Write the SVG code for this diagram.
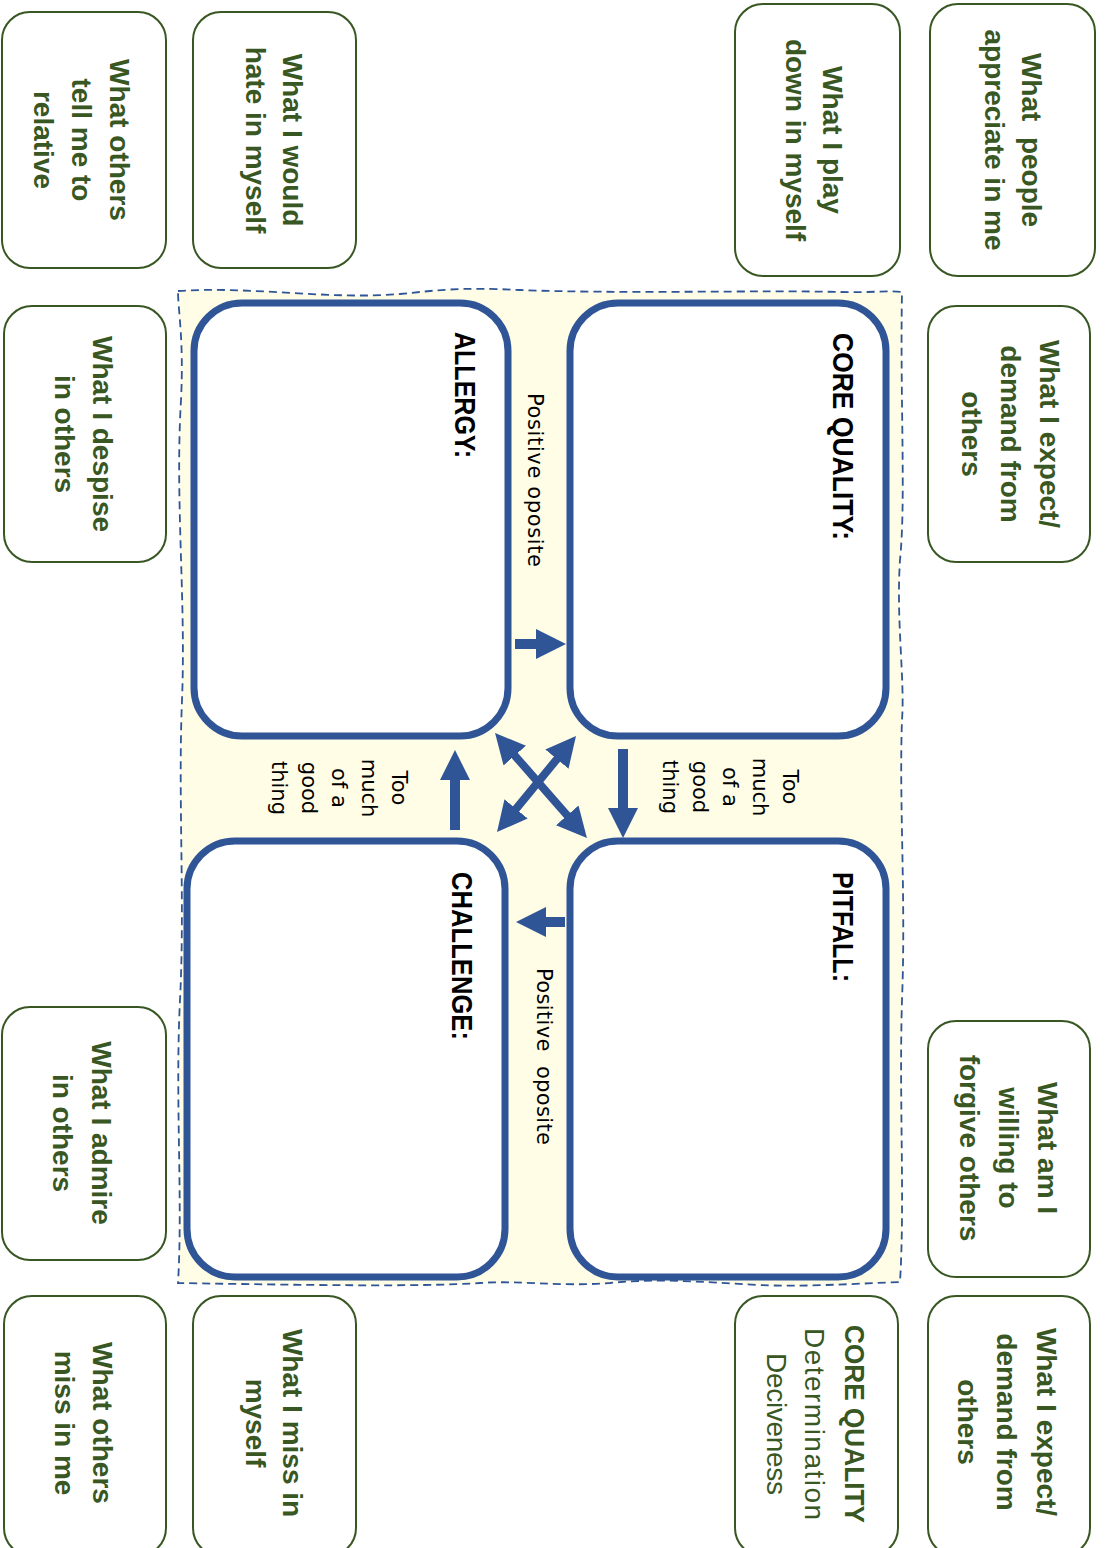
<svg xmlns="http://www.w3.org/2000/svg" width="1105" height="1548" viewBox="0 0 1105 1548">
<style>
.gbox{fill:#ffffff;stroke:#385723;stroke-width:2}
.bbox{fill:#ffffff;stroke:#2f5597;stroke-width:7}
.gt{font-family:"Liberation Sans",Arial,sans-serif;font-weight:bold;font-size:28px;fill:#385723;text-anchor:middle}
.gn{font-weight:normal}
.bt{font-family:"Liberation Sans",Arial,sans-serif;font-weight:bold;font-size:29px;fill:#000000}
.lt{font-family:"DejaVu Sans",Verdana,sans-serif;font-size:21px;fill:#000000}
.mid{text-anchor:middle}
.arr{stroke:#2f5597;stroke-width:10;fill:none;marker-end:url(#head)}
.darr{stroke:#2f5597;stroke-width:8;fill:none;marker-end:url(#head);marker-start:url(#head)}
</style>
<defs>
<marker id="head" markerUnits="userSpaceOnUse" markerWidth="30" markerHeight="30" viewBox="0 0 30 30" refX="2" refY="15" orient="auto-start-reverse">
<path d="M0,0 L30,15 L0,30 Z" fill="#2f5597"/>
</marker>
</defs>

<g id="background">
<path d="M178,291 C250,286 330,300 400,294 C440,290 460,287 520,290 C620,294 760,290 840,292 C870,293 890,290 902,292 C900,400 906,500 900,560 C896,620 905,680 902,720 C899,800 906,900 902,1000 C899,1100 905,1200 900,1282 C850,1284 800,1287 760,1285 C700,1282 660,1278 610,1283 C560,1287 520,1280 480,1283 C420,1287 300,1285 178,1283 C183,1200 175,1100 180,1000 C185,900 178,800 182,700 C186,600 175,500 181,400 C184,340 178,310 178,291 Z" fill="#fffde6" stroke="#2f5597" stroke-width="1.8" stroke-dasharray="8,5"/>
</g>

<g id="allergy">
<rect class="bbox" x="194" y="303" width="314" height="433" rx="48"/>
<text class="bt" transform="translate(455,332) rotate(90)" textLength="126" lengthAdjust="spacingAndGlyphs">ALLERGY:</text>
</g>
<g id="core-quality">
<rect class="bbox" x="570" y="303" width="316" height="433" rx="48"/>
<text class="bt" transform="translate(833,333) rotate(90)" textLength="207" lengthAdjust="spacingAndGlyphs">CORE QUALITY:</text>
</g>
<g id="challenge">
<rect class="bbox" x="187" y="841" width="318" height="436" rx="48"/>
<text class="bt" transform="translate(452,872) rotate(90)" textLength="168" lengthAdjust="spacingAndGlyphs">CHALLENGE:</text>
</g>
<g id="pitfall">
<rect class="bbox" x="570" y="841" width="316" height="436" rx="48"/>
<text class="bt" transform="translate(833,872) rotate(90)" textLength="110" lengthAdjust="spacingAndGlyphs">PITFALL:</text>
</g>

<g id="connectors">
<line class="arr" x1="515" y1="644" x2="538" y2="644"/>
<line class="arr" x1="623" y1="749" x2="623" y2="810"/>
<line class="arr" x1="455" y1="830" x2="455" y2="778"/>
<line class="arr" x1="565" y1="922" x2="544" y2="922"/>
<line class="darr" x1="513.5" y1="754.1" x2="568.5" y2="816.9"/>
<line class="darr" x1="558.2" y1="757.6" x2="514.8" y2="810.4"/>
<text class="lt" transform="translate(528,393) rotate(90)" textLength="174">Positive oposite</text>
<text class="lt" transform="translate(537,968) rotate(90)" textLength="177">Positive&#160; oposite</text>
<text class="lt mid" transform="translate(783,787) rotate(90)"><tspan x="0" y="0">Too</tspan><tspan x="0" y="30">much</tspan><tspan x="0" y="60">of a</tspan><tspan x="0" y="90">good</tspan><tspan x="0" y="120">thing</tspan></text>
<text class="lt mid" transform="translate(392,788) rotate(90)"><tspan x="0" y="0">Too</tspan><tspan x="0" y="30">much</tspan><tspan x="0" y="60">of a</tspan><tspan x="0" y="90">good</tspan><tspan x="0" y="120">thing</tspan></text>
</g>

<g id="others-tell-me">
<rect class="gbox" x="2" y="12" width="164" height="256" rx="28"/>
<text class="gt" transform="translate(110,140) rotate(90)"><tspan x="0" y="0">What others</tspan><tspan x="0" y="38">tell me to</tspan><tspan x="0" y="76">relative</tspan></text>
</g>
<g id="hate-in-myself">
<rect class="gbox" x="193" y="12" width="163" height="256" rx="28"/>
<text class="gt" transform="translate(283,140) rotate(90)"><tspan x="0" y="0">What I would</tspan><tspan x="0" y="37">hate in myself</tspan></text>
</g>
<g id="play-down">
<rect class="gbox" x="735" y="4" width="165" height="272" rx="28"/>
<text class="gt" transform="translate(823,140) rotate(90)"><tspan x="0" y="0">What I play</tspan><tspan x="0" y="37">down in myself</tspan></text>
</g>
<g id="appreciate">
<rect class="gbox" x="930" y="4" width="165" height="272" rx="28"/>
<text class="gt" transform="translate(1022,140) rotate(90)"><tspan x="0" y="0">What&#160; people</tspan><tspan x="0" y="37">appreciate in me</tspan></text>
</g>
<g id="despise">
<rect class="gbox" x="4" y="306" width="162" height="256" rx="28"/>
<text class="gt" transform="translate(93,434) rotate(90)"><tspan x="0" y="0">What I despise</tspan><tspan x="0" y="38">in others</tspan></text>
</g>
<g id="expect-top">
<rect class="gbox" x="928" y="306" width="162" height="256" rx="28"/>
<text class="gt" transform="translate(1040,434) rotate(90)"><tspan x="0" y="0">What I expect/</tspan><tspan x="0" y="39">demand from</tspan><tspan x="0" y="78">others</tspan></text>
</g>
<g id="admire">
<rect class="gbox" x="2" y="1007" width="164" height="253" rx="28"/>
<text class="gt" transform="translate(92,1133) rotate(90)"><tspan x="0" y="0">What I admire</tspan><tspan x="0" y="39">in others</tspan></text>
</g>
<g id="forgive">
<rect class="gbox" x="928" y="1021" width="162" height="256" rx="28"/>
<text class="gt" transform="translate(1038,1148) rotate(90)"><tspan x="0" y="0">What am I</tspan><tspan x="0" y="39">willing to</tspan><tspan x="0" y="78">forgive others</tspan></text>
</g>
<g id="others-miss">
<rect class="gbox" x="4" y="1296" width="162" height="260" rx="28"/>
<text class="gt" transform="translate(93,1423) rotate(90)"><tspan x="0" y="0">What others</tspan><tspan x="0" y="38">miss in me</tspan></text>
</g>
<g id="miss-in-myself">
<rect class="gbox" x="193" y="1296" width="163" height="260" rx="28"/>
<text class="gt" transform="translate(283,1423) rotate(90)"><tspan x="0" y="0">What I miss in</tspan><tspan x="0" y="37">myself</tspan></text>
</g>
<g id="core-quality-card">
<rect class="gbox" x="735" y="1296" width="163" height="260" rx="28"/>
<text class="gt" transform="translate(845,1424) rotate(90)"><tspan x="0" y="0" textLength="198" lengthAdjust="spacingAndGlyphs">CORE QUALITY</tspan><tspan class="gn" x="0" y="40" textLength="192">Determination</tspan><tspan class="gn" x="0" y="78" textLength="142">Deciveness</tspan></text>
</g>
<g id="expect-bottom">
<rect class="gbox" x="928" y="1296" width="162" height="260" rx="28"/>
<text class="gt" transform="translate(1037,1422) rotate(90)"><tspan x="0" y="0">What I expect/</tspan><tspan x="0" y="40">demand from</tspan><tspan x="0" y="79">others</tspan></text>
</g>
</svg>
